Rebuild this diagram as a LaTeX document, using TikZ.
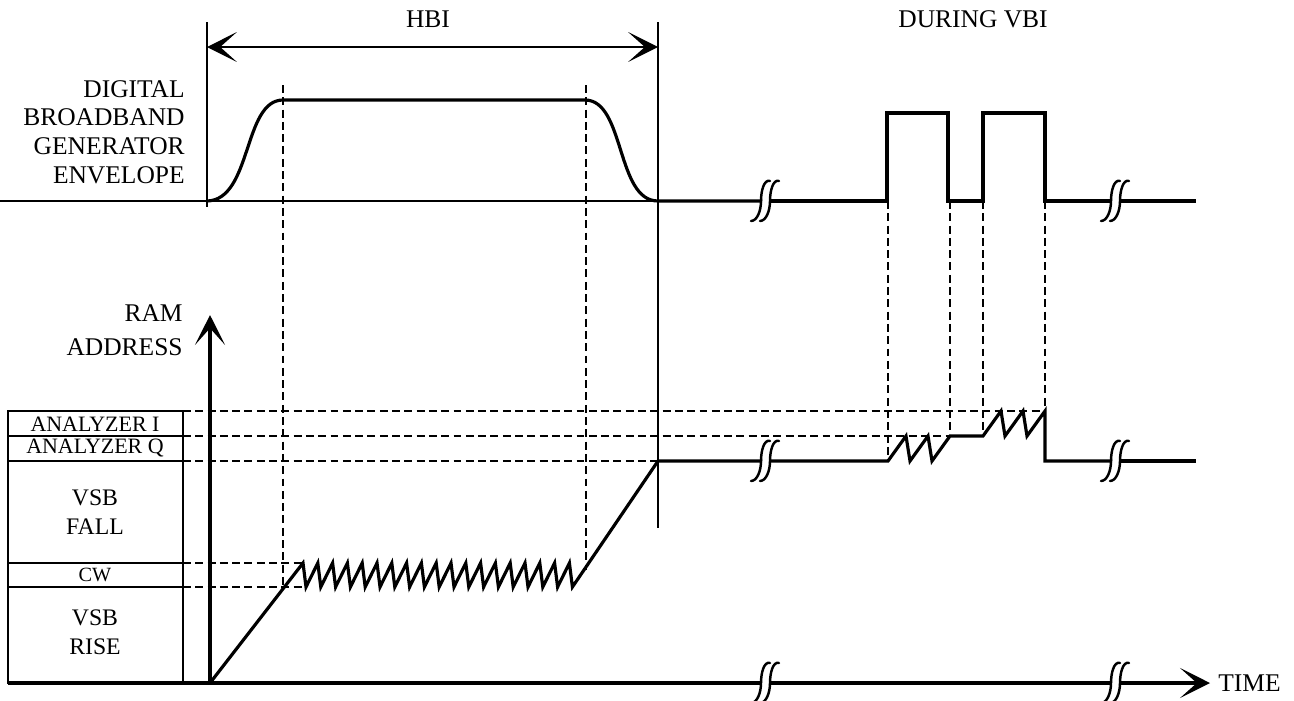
\documentclass[tikz,border=0pt]{standalone}
\usepackage{fontspec}
\setmainfont{Liberation Serif}
\usetikzlibrary{arrows.meta}

\tikzset{
  lbl/.style={font=\fontsize{14.5}{16.4}\selectfont, align=right, inner sep=0pt},
  celltxt/.style={font=\fontsize{12.5}{13}\selectfont, inner sep=0pt},
  cwtxt/.style={font=\fontsize{11.5}{12}\selectfont, inner sep=0pt},
  cellbig/.style={font=\fontsize{13.5}{16.4}\selectfont, align=center, inner sep=0pt},
  thinln/.style={line width=0.8pt},
  sig/.style={line width=1.8pt, line join=miter},
  axisln/.style={line width=2.4pt},
  guide/.style={line width=0.7pt, dash pattern=on 4.5pt off 2.5pt},
  brkmark/.style={line width=1.4pt, line cap=round},
  bigtip/.tip={Stealth[length=17pt, width=17pt, inset=9.5pt]},
}

\begin{document}
\begin{tikzpicture}[x=0.02cm, y=-0.02cm]
\useasboundingbox (0,0) rectangle (1294,700);

% Titles
\node[lbl] (hbi) at (428,19) {HBI};
\node[lbl] (vbi) at (973,19) {DURING VBI};
\node[lbl, anchor=east] (env) at (185,132) {DIGITAL\\BROADBAND\\GENERATOR\\ENVELOPE};
\node[lbl, anchor=east] (ram) at (183,330) {RAM\\[3pt]ADDRESS};
\node[lbl, anchor=west] (time) at (1218,683) {TIME};

% HBI markers
\draw[thinln] (207,22) -- (207,207);
\draw[thinln] (658,22) -- (658,528);
\draw[thinln, bigtip-bigtip] (207,47) -- (658,47);

% Envelope
\draw[thinln] (0,201) -- (658,201);
\draw[sig] (207,201) .. controls (252,200) and (243,100) .. (283,100)
  -- (585,100) .. controls (625,100) and (616,201) .. (658,201) -- (762,201);
\draw[sig] (770,201) -- (887,201) -- (887,113) -- (948,113) -- (948,201)
  -- (983,201) -- (983,113) -- (1045,113) -- (1045,201) -- (1112,201);
\draw[sig] (1120,201) -- (1196,201);

% Address table
\draw[thinln] (8,411) rectangle (183,683);
\foreach \yy in {436,461,563,587}
  \draw[thinln] (8,\yy) -- (183,\yy);
\node[celltxt] (ani) at (95,424) {ANALYZER I};
\node[celltxt] (anq) at (95,448) {ANALYZER Q};
\node[cellbig] (fall) at (95,512) {VSB\\FALL};
\node[cwtxt] (cw) at (95,575) {CW};
\node[cellbig] (rise) at (95,632) {VSB\\RISE};

% Guide lines
\draw[guide] (183,411) -- (1045,411);
\draw[guide] (183,436) -- (950,436);
\draw[guide] (183,461) -- (658,461);
\draw[guide] (183,563) -- (303,563);
\draw[guide] (183,587) -- (303,587);
\draw[guide] (283,85) -- (283,587);
\draw[guide] (586,85) -- (586,570);
\draw[guide] (888,201) -- (888,461);
\draw[guide] (950,201) -- (950,436);
\draw[guide] (983,201) -- (983,436);
\draw[guide] (1045,201) -- (1045,411);

% Axes
\coordinate (o) at (210,683);
\draw[axisln, -bigtip] (o) -- (210,315);
\draw[axisln] (8,683) -- (762,683);
\draw[axisln] (770,683) -- (1112,683);
\draw[axisln, -bigtip] (1120,683) -- (1210,683);

% RAM address during HBI
\draw[sig] (o) -- (303,563)
  foreach \k in {0,...,17} { -- ({303+14.8*\k+3},587) -- ({303+14.8*(\k+1)},563) }
  -- (572.4,587) -- (658,461) -- (762,461);

% RAM address during VBI
\draw[sig] (770,461) -- (888,461) -- (906,436) -- (910,461) -- (928,436)
  -- (932,461) -- (950,436) -- (983,436) -- (1001,411) -- (1005,436)
  -- (1023,411) -- (1027,436) -- (1045,411) -- (1045,461) -- (1112,461);
\draw[sig] (1120,461) -- (1196,461);

% Break marks
\foreach \bx/\by in {765/201,1115/201,765/461,1115/461,765/683,1115/683}
  \foreach \dx in {-4,5}
    \draw[brkmark] ({\bx+\dx+9},\by-20) .. controls ({\bx+\dx+3},\by-22)
      and ({\bx+\dx},\by-10) .. ({\bx+\dx},\by)
      .. controls ({\bx+\dx},\by+10) and ({\bx+\dx-4},\by+20) .. ({\bx+\dx-10},\by+20);
\end{tikzpicture}
\end{document}
